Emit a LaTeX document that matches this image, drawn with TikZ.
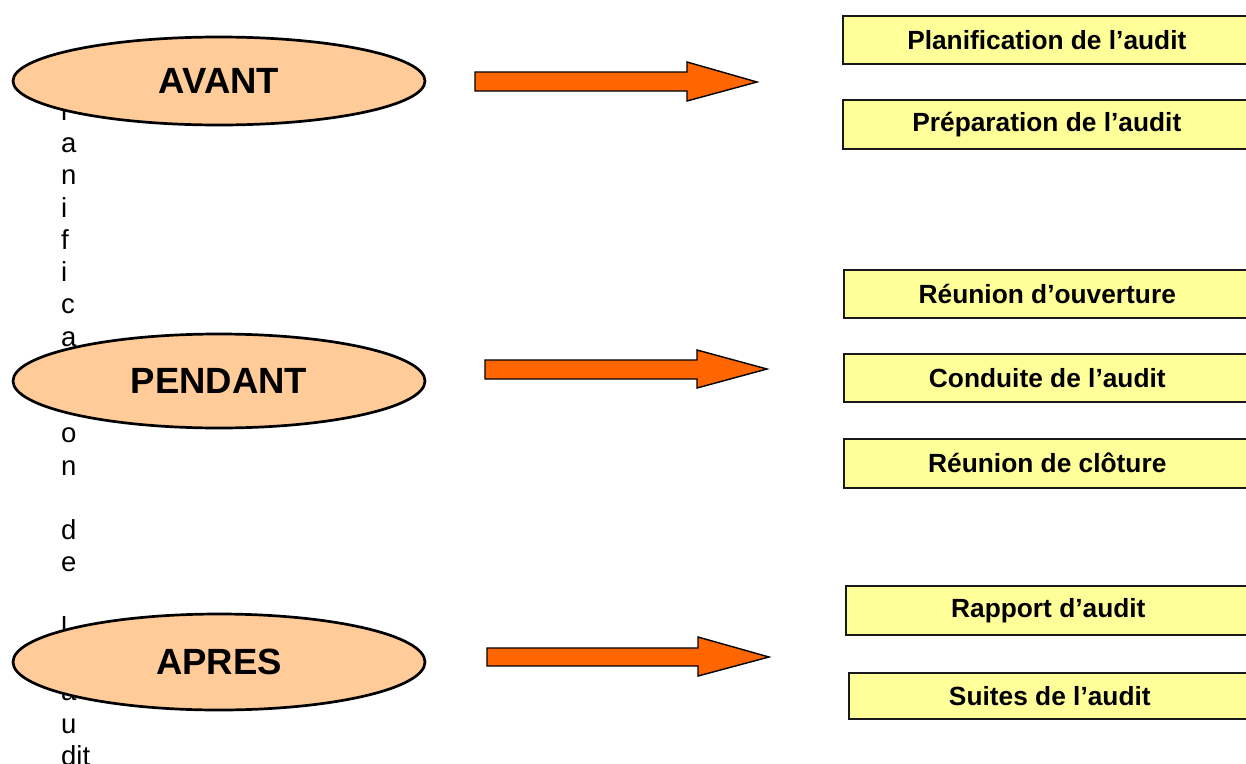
\documentclass[tikz,border=0pt]{standalone}
\usepackage{fontspec}
\setmainfont{Liberation Sans}
\usetikzlibrary{shapes.geometric}
\definecolor{peach}{HTML}{FFCC99}
\definecolor{arrorange}{HTML}{FF6600}
\definecolor{boxyellow}{HTML}{FFFF99}
\tikzset{
  vletter/.style={anchor=base west, inner sep=0pt, font=\fontsize{27.5}{32}\selectfont},
  phase/.style={ellipse, draw=black, line width=2.7pt, fill=peach, inner sep=0pt,
    minimum width=412pt, font=\fontsize{36.5}{40}\selectfont\bfseries},
  stepbox/.style={rectangle, draw=black!90, line width=1.6pt, fill=boxyellow, anchor=north west,
    inner sep=0pt, font=\fontsize{26.3}{30}\selectfont\bfseries},
  blockarrow/.style={draw=black, line width=1.4pt, fill=arrorange, line join=miter}
}
\begin{document}
\begin{tikzpicture}[x=1pt,y=1pt]
\useasboundingbox (0,0) rectangle (1246,-763);
\clip (0,0) rectangle (1246,-763);
% vertical text (behind the ellipses)
\foreach \ch [count=\i from 0] in {P,l,a,n,i,f,i,c,a,t,i,o,n,{},d,e,{},l,’,a,u,dit}
  \node[vletter] (v\i) at (61,-88-32.25*\i) {\ch};
% ellipses
\node[phase, minimum height=88pt] (avant) at (219,-81) {AVANT};
\node[phase, minimum height=94pt] (pendant) at (219,-381) {PENDANT};
\node[phase, minimum height=96pt] (apres) at (219,-662) {APRES};
% block arrows
\draw[blockarrow] (475,-72) -- (687,-72) -- (687,-62) -- (757,-82) -- (687,-101) -- (687,-91) -- (475,-91) -- cycle;
\draw[blockarrow] (485,-360) -- (697,-360) -- (697,-350) -- (767,-369) -- (697,-388) -- (697,-379) -- (485,-379) -- cycle;
\draw[blockarrow] (487,-648) -- (698,-648) -- (698,-637) -- (769,-657) -- (698,-676) -- (698,-666) -- (487,-666) -- cycle;
% boxes
\node[stepbox, minimum width=408pt, minimum height=48pt] (b1) at (842,-15) {Planification de l’audit};
\node[stepbox, minimum width=408pt, minimum height=49pt] (b2) at (842,-99) {Préparation de l’audit};
\node[stepbox, minimum width=407pt, minimum height=48pt] (b3) at (843,-269) {Réunion d’ouverture};
\node[stepbox, minimum width=407pt, minimum height=48pt] (b4) at (843,-353) {Conduite de l’audit};
\node[stepbox, minimum width=407pt, minimum height=49pt] (b5) at (843,-438) {Réunion de clôture};
\node[stepbox, minimum width=405pt, minimum height=49pt] (b6) at (845,-585) {Rapport d’audit};
\node[stepbox, minimum width=402pt, minimum height=46pt] (b7) at (848,-672) {Suites de l’audit};
\end{tikzpicture}
\end{document}
